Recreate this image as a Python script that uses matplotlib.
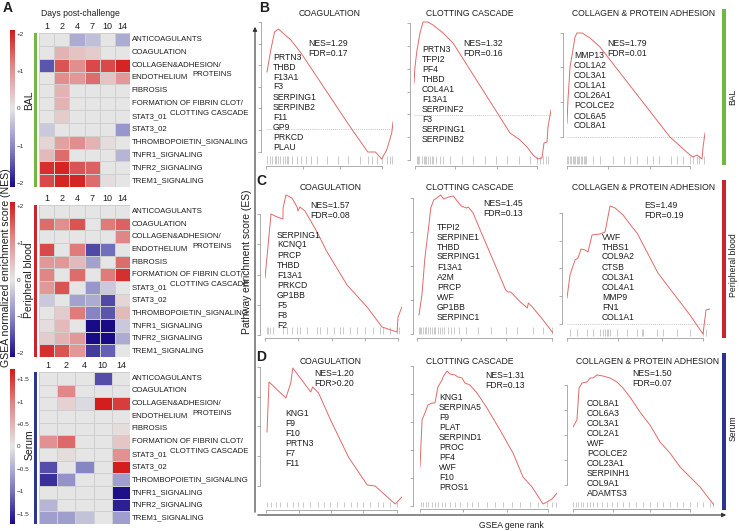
import numpy as np
import matplotlib
matplotlib.use('Agg')
import matplotlib.pyplot as plt
from matplotlib.colors import LinearSegmentedColormap, Normalize
from matplotlib.cm import ScalarMappable
from matplotlib.patches import Rectangle, FancyArrowPatch

plt.rcParams['font.family'] = ['Liberation Sans', 'DejaVu Sans']

# ---- heatmap data (NES) ----
pathways = ['ANTICOAGULANTS', 'COAGULATION', 'COLLAGEN&ADHESION/', 'ENDOTHELIUM',
            'FIBROSIS', 'FORMATION OF FIBRIN CLOT/', 'STAT3_01', 'STAT3_02',
            'THROMBOPOIETIN_SIGNALING', 'TNFR1_SIGNALING', 'TNFR2_SIGNALING',
            'TREM1_SIGNALING']
days_bal = ['1', '2', '4', '7', '10', '14']
days_pb = ['1', '2', '4', '7', '10', '14']
days_serum = ['1', '2', '4', '10', '14']

nes_bal = [[0.0, 0.0, -0.6, -0.4, 0.0, -0.6],
           [0.0, 0.6, 0.4, 0.3, 0.0, 0.0],
           [-1.4, 1.5, 1.0, 1.6, 1.6, 1.9],
           [0.0, 1.0, 0.9, 1.3, 0.4, 0.9],
           [0.0, 0.6, 0.0, 0.0, 0.0, 0.0],
           [0.0, 0.6, 0.0, 0.0, 0.0, 0.0],
           [0.0, 0.3, 0.0, 0.0, 0.0, 0.0],
           [-0.3, 0.0, 0.0, 0.0, 0.0, -0.8],
           [0.2, 0.8, 1.0, 0.6, 0.1, 0.0],
           [0.5, 1.3, 0.0, 0.0, 0.0, -0.5],
           [1.8, 1.9, 1.5, 1.4, 0.0, 0.0],
           [1.6, 1.9, 1.9, 1.3, 0.1, 0.0]]

nes_pb = [[0.0, 0.0, 0.0, 0.0, 0.0, 0.0],
          [1.3, 1.0, 1.5, 0.0, 1.2, 1.4],
          [0.0, 0.0, 0.0, 0.0, 0.0, 1.1],
          [1.6, 0.0, 1.2, -1.5, -1.2, 0.0],
          [0.9, 0.9, 0.5, -0.7, 0.0, 1.3],
          [1.1, 0.0, 1.3, 0.0, 1.2, 1.8],
          [0.9, 1.5, 0.0, -0.8, -0.3, 0.0],
          [-0.3, 0.0, -0.7, -0.6, -1.5, 0.2],
          [0.0, 0.3, 1.2, -1.0, -1.4, 0.5],
          [0.1, 0.5, 0.0, -2.0, -2.0, -0.3],
          [0.3, 0.6, 0.9, -2.0, -2.0, -0.6],
          [1.8, 1.5, 0.9, -1.6, -1.3, 0.0]]

nes_serum = [[0.0, 0.0, 0.0, -1.2, 0.0],
             [0.0, 0.9, 0.0, 0.0, 0.0],
             [0.0, 0.2, -0.1, 1.6, 1.4],
             [0.0, 0.0, 0.0, 0.0, 0.0],
             [0.0, 0.0, 0.0, 0.0, 0.1],
             [0.8, 1.1, 0.0, 0.0, 0.3],
             [0.0, 0.1, 0.0, 0.0, 0.8],
             [-1.2, 0.0, -0.8, 0.0, 1.6],
             [-1.4, -0.7, 0.0, 0.0, -0.6],
             [0.0, 0.0, 0.0, 0.0, -1.6],
             [-0.4, 0.0, 0.0, 0.0, -1.5],
             [-0.6, -0.6, -0.3, 0.0, -0.6]]

# ---- running enrichment scores (rank in % of gene list) ----
b1_rank = [0, 3, 6, 9, 19, 27, 65, 80, 86, 91, 95, 99, 100]
b1_es = [0.285, 0.395, 0.485, 0.50, 0.445, 0.38, 0.02, -0.115, -0.115, -0.15, -0.105, -0.02, 0.035]
b1_hits = [0, 2, 4, 6, 7, 9, 10, 13, 14, 16, 17, 20, 24, 27, 31, 35, 40, 48, 56, 64, 74, 80, 83, 87, 91, 95, 98, 99]
b1_genes = ['PRTN3', 'THBD', 'F13A1', 'F3', 'SERPING1', 'SERPINB2', 'F11', 'GP9', 'PRKCD', 'PLAU']

b2_rank = [0, 0.7, 2.2, 4.4, 6.6, 10.2, 13.9, 21.2, 28.5, 70.1, 77.4, 82.5, 86.9, 90.5, 93.4, 94.9, 97.1, 97.8, 100]
b2_es = [0.16, 0.24, 0.325, 0.41, 0.465, 0.465, 0.45, 0.41, 0.36, -0.09, -0.125, -0.16, -0.2, -0.22, -0.215, -0.14, -0.135, -0.06, 0.025]
b2_hits = [2, 3, 4, 6, 7, 8, 9, 10, 12, 13, 14, 16, 19, 21, 26, 35, 43, 52, 60, 68, 77, 85, 90, 92, 94, 96, 98]
b2_genes = ['PRTN3', 'TFPI2', 'PF4', 'THBD', 'COL4A1', 'F13A1', 'SERPINF2', 'F3', 'SERPING1', 'SERPINB2']

b3_rank = [0, 0.7, 2.2, 4.3, 5.8, 7.2, 10.9, 16.7, 23.9, 74.6, 89.1, 91.3, 94.2, 97.8, 98.6, 100]
b3_es = [0.07, 0.185, 0.35, 0.435, 0.5, 0.52, 0.52, 0.495, 0.45, 0.0, -0.09, -0.1, -0.09, -0.11, -0.05, 0.02]
b3_hits = [0, 1, 2, 3, 4, 5, 6, 7, 8, 9, 10, 11, 12, 13, 14, 19, 24, 33, 41, 46, 51, 58, 62, 67, 75, 80, 84, 89, 91, 94, 96, 99]
b3_genes = ['MMP13', 'COL1A2', 'COL3A1', 'COL1A1', 'COL26A1', 'PCOLCE2', 'COL6A5', 'COL8A1']

c1_rank = [0, 4.4, 8.8, 13.1, 13.2, 15.3, 19.7, 23.4, 24.1, 25.5, 29.2, 38.0, 45.3, 59.9, 74.5, 85.4, 96.4, 97.1, 100]
c1_es = [0.27, 0.59, 0.575, 0.565, 0.62, 0.685, 0.67, 0.625, 0.605, 0.625, 0.605, 0.5, 0.4, 0.235, 0.125, 0.025, 0.0, 0.075, 0.125]
c1_hits = [1.5, 2.2, 3.6, 5.8, 13, 16, 20, 23, 25.5, 31, 38, 40, 45, 50, 55, 57, 62, 67, 73, 79, 84, 86, 91, 96, 98]
c1_genes = ['SERPING1', 'KCNQ1', 'PRCP', 'THBD', 'F13A1', 'PRKCD', 'GP1BB', 'F5', 'F8', 'F2']

c2_rank = [0, 2.2, 4.4, 7.4, 8.8, 11.0, 13.2, 16.2, 18.4, 22.1, 25.7, 27.9, 31.6, 35.3, 36.8, 40.4, 46.3, 55.9,
           64.7, 66.2, 68.4, 75.7, 80.9, 81.6, 84.6, 92.6, 100]
c2_es = [0.09, 0.19, 0.375, 0.54, 0.625, 0.665, 0.675, 0.69, 0.67, 0.68, 0.685, 0.665, 0.635, 0.625, 0.63, 0.6, 0.505,
         0.355, 0.215, 0.205, 0.205, 0.155, 0.125, 0.15, 0.13, 0.065, 0.0]
c2_hits = [0, 1, 1.5, 3, 4.4, 5, 6.6, 8, 9.6, 11, 12, 14, 15.4, 17, 19, 22, 24, 26.5, 30, 35, 44, 54, 65, 73.5, 85, 92.6, 99]
c2_genes = ['TFPI2', 'SERPINE1', 'THBD', 'SERPING1', 'F13A1', 'A2M', 'PRCP', 'vWF', 'GP1BB', 'SERPINC1']

c3_rank = [0, 2.1, 5.6, 7.7, 9.8, 12.6, 14.7, 17.5, 23.1, 26.6, 30.1, 33.6, 39.2, 45.5, 49.0, 63.6, 76.9, 86.0, 95.1, 97.2, 100]
c3_es = [0.13, 0.245, 0.32, 0.33, 0.375, 0.37, 0.36, 0.445, 0.45, 0.46, 0.59, 0.58, 0.545, 0.485, 0.455, 0.255, 0.13,
         0.045, -0.05, 0.07, 0.075]
c3_hits = [2, 7, 14, 18, 23, 25, 26.6, 28, 28.7, 30, 35, 42, 49, 52.4, 53, 63, 67, 77, 86, 95, 97]
c3_genes = ['VWF', 'THBS1', 'COL9A2', 'CTSB', 'COL3A1', 'COL4A1', 'MMP9', 'FN1', 'COL1A1']

d1_rank = [0, 1.5, 14.0, 17.6, 19.1, 32.4, 33.8, 38.2, 47.1, 60.3, 74.3, 80.1, 94.9, 100]
d1_es = [0.36, 0.61, 0.53, 0.605, 0.68, 0.56, 0.585, 0.555, 0.42, 0.235, 0.095, 0.09, 0.0, 0.035]
d1_hits = [0, 3, 6.6, 10, 15, 19, 23, 27, 32, 37.5, 42, 47, 52, 57, 62, 67, 71, 76.5, 82, 86, 91, 96, 100]
d1_genes = ['KNG1', 'F9', 'F10', 'PRTN3', 'F7', 'F11']

d2_rank = [0, 1.5, 3.6, 5.8, 8.8, 10.9, 13.1, 16.1, 16.8, 19.7, 21.9, 25.5, 27.7, 30.7, 32.8, 36.5, 41.6, 48.9, 58.4,
           67.9, 75.2, 81.8, 89.8, 92.7, 96.4, 100]
d2_es = [0.185, 0.42, 0.455, 0.495, 0.505, 0.505, 0.585, 0.62, 0.635, 0.665, 0.65, 0.645, 0.635, 0.63, 0.605, 0.595,
         0.555, 0.48, 0.37, 0.255, 0.135, 0.085, 0.0, 0.01, 0.025, 0.055]
d2_hits = [0.7, 2.2, 4.4, 5.8, 8.8, 11, 13, 16, 18, 22, 25.5, 29, 34, 38, 42, 49, 55, 60.6, 67, 73, 80, 86, 92.7, 96.4, 99]
d2_genes = ['KNG1', 'SERPINA5', 'F9', 'PLAT', 'SERPIND1', 'PROC', 'PF4', 'vWF', 'F10', 'PROS1']

d3_rank = [0, 2.8, 4.3, 6.4, 9.9, 12.1, 14.2, 17.0, 21.3, 26.2, 31.2, 35.5, 40.4, 47.5, 54.6, 61.7, 68.8, 75.9, 83.0, 90.1, 100]
d3_es = [0.39, 0.425, 0.585, 0.61, 0.615, 0.635, 0.635, 0.65, 0.645, 0.635, 0.615, 0.585, 0.54, 0.465, 0.4, 0.315, 0.26,
         0.19, 0.14, 0.09, 0.0]
d3_hits = [0, 2, 3.5, 5.7, 7, 10, 12, 14, 17, 20.6, 24, 27.7, 31, 35.5, 40, 45, 49.6, 54.6, 59.6, 64, 69, 74, 78, 83, 88, 92, 97, 99]
d3_genes = ['COL8A1', 'COL6A3', 'COL3A1', 'COL2A1', 'vWF', 'PCOLCE2', 'COL23A1', 'SERPINH1', 'COL9A1', 'ADAMTS3']

gsea_titles = ['COAGULATION', 'CLOTTING CASCADE', 'COLLAGEN & PROTEIN ADHESION']
stats = [('NES=1.29', 'FDR=0.17'), ('NES=1.32', 'FDR=0.16'), ('NES=1.79', 'FDR=0.01'),
         ('NES=1.57', 'FDR=0.08'), ('NES=1.45', 'FDR=0.13'), ('ES=1.49', 'FDR=0.19'),
         ('NES=1.20', 'FDR>0.20'), ('NES=1.31', 'FDR=0.13'), ('NES=1.50', 'FDR=0.07')]

# ---- figure helpers (pixel layout) ----
W, H = 739, 531
fig = plt.figure(figsize=(W / 100, H / 100), dpi=100)
TXT = '#1e1e1e'
AX_GRAY = '#a0a0a0'
CURVE = '#e06a6a'
GREEN, RED, BLUE = '#71b843', '#c9252c', '#2b3590'


def box(l, t, r, b):
    return fig.add_axes([l / W, 1 - b / H, (r - l) / W, (b - t) / H])


def put(x, y, s, **kw):
    kw.setdefault('color', TXT)
    return fig.text(x / W, 1 - y / H, s, **kw)


def bar(x0, x1, y0, y1, c):
    fig.add_artist(Rectangle((x0 / W, 1 - y1 / H), (x1 - x0) / W, (y1 - y0) / H,
                             transform=fig.transFigure, color=c, lw=0))


nes_cmap = LinearSegmentedColormap.from_list(
    'nes', [(0, '#190a85'), (0.22, '#7a78c0'), (0.5, '#e6e6e6'), (0.78, '#e08585'), (1, '#d31818')])


def heatmap(vals, cols, top, bottom, lim, ticks, ticklabels, side_label, side_y, bar_color):
    vals = np.array(vals)
    norm = Normalize(-lim, lim)
    ax = box(39, top, 130, bottom)
    ax.pcolormesh(np.arange(len(cols) + 1), np.arange(len(pathways) + 1), vals,
                  cmap=nes_cmap, norm=norm, edgecolors='#cfcfcf', linewidth=0.5)
    ax.set_xlim(0, len(cols))
    ax.set_ylim(len(pathways), 0)
    ax.xaxis.tick_top()
    ax.set_xticks(np.arange(len(cols)) + 0.5)
    ax.set_xticklabels(cols, fontsize=6.5, color=TXT)
    ax.tick_params(length=0, pad=1.5)
    ax.set_yticks([])
    for s in ax.spines.values():
        s.set_visible(False)
    lab_tr = ax.get_yaxis_transform()
    for i, name in enumerate(pathways):
        ax.text(1.02, i + 0.5, name, transform=lab_tr, fontsize=5.6, va='center', color=TXT)
    ax.text(1.68, 3.25, 'PROTEINS', transform=lab_tr, fontsize=5.6, va='center', color=TXT)
    ax.text(1.44, 6.3, 'CLOTTING CASCADE', transform=lab_tr, fontsize=5.6, va='center', color=TXT)

    cax = box(10, top - 3, 15, bottom)
    cb = fig.colorbar(ScalarMappable(norm=Normalize(-lim * 1.05, lim * 1.05), cmap=nes_cmap), cax=cax)
    cb.outline.set_visible(False)
    cb.set_ticks(ticks)
    cb.set_ticklabels(ticklabels)
    cax.tick_params(length=0, labelsize=4.6, pad=1.2, labelcolor='#333333')

    bar(34, 36.5, top, bottom, bar_color)
    put(29.5, side_y, side_label, rotation=90, fontsize=7.5, ha='center', va='center')


# ---- panel A ----
put(8, 8, 'A', fontsize=10, fontweight='bold', ha='center', va='center')
put(80, 14, 'Days post-challenge', fontsize=6.2, ha='center', va='center')
put(6, 268, 'GSEA normalized enrichment score (NES)', rotation=90, fontsize=7.6, ha='center', va='center')

lab2 = ['\u22122', '\u22121', '0', '+1', '+2']
heatmap(nes_bal, days_bal, 33, 187, 2.0, [-2, -1, 0, 1, 2], lab2, 'BAL', 100, GREEN)
heatmap(nes_pb, days_pb, 205, 357, 2.0, [-2, -1, 0, 1, 2], lab2, 'Peripheral blood', 280, RED)
heatmap(nes_serum, days_serum, 372, 524, 1.65, [-1.5, -1, -0.5, 0, 0.5, 1, 1.5],
        ['\u22121.5', '\u22121', '\u22120.5', '0', '+0.5', '+1', '+1.5'], 'Serum', 445, BLUE)

# ---- panels B-D: running enrichment score plots ----
SCALE = 200.0  # pixels per ES unit
layouts = [
    # x0, x1, top, bottom, zero_px, spine_x, ytick_px, xtick_px, rug_top, rug_bot, zero_line
    (266, 393, 20, 166, 129, 261, [22, 44, 65, 87, 108, 130, 152], [265, 302, 340, 382], 156, 164, True),
    (414, 551, 20, 166, 115, 410, [23, 46, 69, 92, 114, 137, 160], [415, 455, 497, 537], 156, 164, True),
    (567, 705, 20, 166, 137, 563, [33, 67, 102, 137], [567, 608, 650, 690], 156, 164, True),
    (265, 402, 193, 338, 332, 260, [214, 244, 275, 305, 335], [265, 298, 332, 365, 398], 327, 334, False),
    (417, 553, 193, 338, 333, 413, [198, 232, 266, 300, 334], [415, 460, 505, 552], 327, 334, False),
    (567, 710, 193, 338, 324, 562, [213, 241, 268, 296, 324], [567, 618, 662, 703], 329, 336, True),
    (266, 402, 365, 510, 504, 260, [367, 397, 426, 456, 486], [265, 298, 330, 363, 397], 502, 507, False),
    (420, 557, 365, 509, 504, 413, [366, 394, 422, 450, 478, 506], [420, 463, 507, 548], 502, 507, False),
    (573, 714, 365, 509, 505, 567, [385, 410, 435, 460, 485], [573, 613, 650, 690], 502, 507, False),
]
curves = [(b1_rank, b1_es, b1_hits, b1_genes), (b2_rank, b2_es, b2_hits, b2_genes),
          (b3_rank, b3_es, b3_hits, b3_genes), (c1_rank, c1_es, c1_hits, c1_genes),
          (c2_rank, c2_es, c2_hits, c2_genes), (c3_rank, c3_es, c3_hits, c3_genes),
          (d1_rank, d1_es, d1_hits, d1_genes), (d2_rank, d2_es, d2_hits, d2_genes),
          (d3_rank, d3_es, d3_hits, d3_genes)]
title_x = [330, 470, 644, 331, 470, 644, 331, 470, 648]
title_y = [14, 14, 14, 187, 187, 187, 361, 361, 361]
stat_xy = [(308, 43), (463, 44), (607, 43), (310, 206), (483, 204), (644, 205), (314, 374), (485, 376), (632, 374)]
gene_xy = [(273, 57), (422, 49), (574, 56), (277, 235), (437, 227), (602, 237), (285, 413), (439, 398), (587, 403)]

for k, (lay, cur) in enumerate(zip(layouts, curves)):
    x0, x1, top, bot, zero, sx, ytp, xtp, rt, rb, zl = lay
    rank, es, hits, genes = cur
    ax = box(x0, top, x1, bot)
    ax.set_xlim(0, 100)
    ax.set_ylim((zero - bot) / SCALE, (zero - top) / SCALE)
    ax.patch.set_visible(False)
    if zl:
        ax.axhline(0, color='#b0b0b0', lw=0.6, ls=(0, (1, 1.5)))
    ax.vlines(hits, (bot - rb) / (bot - top), (bot - rt) / (bot - top),
              transform=ax.get_xaxis_transform(), color='#b5b5b5', lw=0.5)
    ax.plot(rank, es, color=CURVE, lw=0.7)

    yt = [(zero - p) / SCALE for p in ytp]
    xt = [(p - x0) / (x1 - x0) * 100 for p in xtp]
    ax.set_yticks(yt)
    ax.set_xticks(xt)
    ax.set_yticklabels([])
    ax.set_xticklabels([])
    ax.spines['top'].set_visible(False)
    ax.spines['right'].set_visible(False)
    ax.spines['left'].set_position(('outward', (x0 - sx) * 0.72))
    ax.spines['left'].set_bounds(min(yt), max(yt))
    ax.spines['bottom'].set_bounds(min(xt), max(xt))
    for s in ('left', 'bottom'):
        ax.spines[s].set_color(AX_GRAY)
        ax.spines[s].set_linewidth(0.6)
    ax.tick_params(length=2, width=0.6, color=AX_GRAY)

    put(title_x[k], title_y[k], gsea_titles[k % 3], fontsize=6.2, ha='center', va='center')
    put(stat_xy[k][0], stat_xy[k][1], stats[k][0], fontsize=6.2, va='center')
    put(stat_xy[k][0], stat_xy[k][1] + 10, stats[k][1], fontsize=6.2, va='center')
    for i, g in enumerate(genes):
        put(gene_xy[k][0], gene_xy[k][1] + 10 * i, g, fontsize=6.2, va='center')

# outer L-shaped axes with arrows
fig.add_artist(FancyArrowPatch((255 / W, 1 - 515 / H), (255 / W, 1 - 24 / H), transform=fig.transFigure,
                               arrowstyle='-|>', mutation_scale=6, lw=0.8, color='#333333'))
fig.add_artist(FancyArrowPatch((255 / W, 1 - 515 / H), (729 / W, 1 - 515 / H), transform=fig.transFigure,
                               arrowstyle='-|>', mutation_scale=6, lw=0.8, color='#333333'))
put(247, 262, 'Pathway enrichment score (ES)', rotation=90, fontsize=7.4, ha='center', va='center')
put(511, 525, 'GSEA gene rank', fontsize=6.2, ha='center', va='center')

put(264, 8, 'B', fontsize=10, fontweight='bold', ha='center', va='center')
put(261, 181, 'C', fontsize=10, fontweight='bold', ha='center', va='center')
put(261, 357, 'D', fontsize=10, fontweight='bold', ha='center', va='center')

bar(722, 725.5, 9, 165, GREEN)
bar(722, 725.5, 180, 338, RED)
bar(722, 725.5, 353, 510, BLUE)
put(733, 97, 'BAL', rotation=90, fontsize=6.2, ha='center', va='center')
put(733, 265, 'Peripheral blood', rotation=90, fontsize=6.2, ha='center', va='center')
put(733, 428, 'Serum', rotation=90, fontsize=6.2, ha='center', va='center')

fig.savefig('out.png', dpi=100)
